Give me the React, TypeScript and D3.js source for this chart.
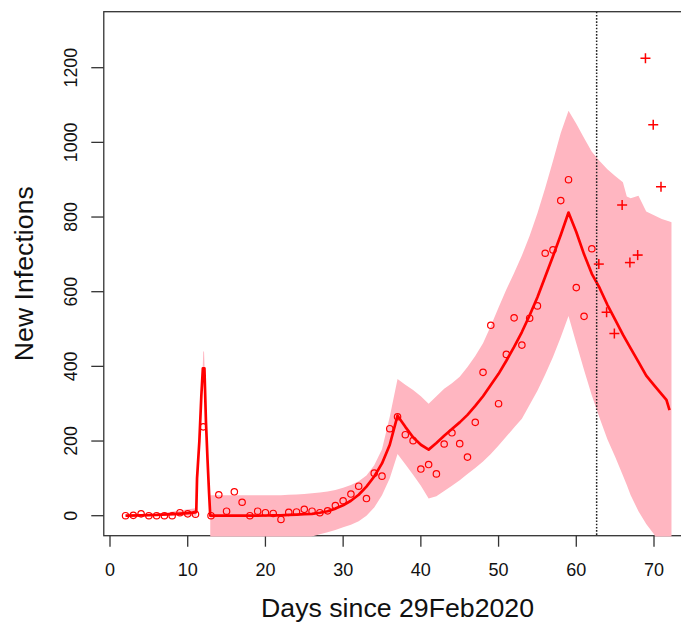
import React from 'react';
import * as d3 from 'd3';

// observed daily counts, day 2 .. 62 (open circles)
const obsStart = 2;
const observed = [
  0, 1, 5, 0, 0, 0, 0, 8, 5, 4, 238, 0, 56, 12, 64, 36, 0, 12, 8, 6,
  -10, 9, 10, 17, 12, 8, 13, 27, 40, 58, 79, 46, 114, 106, 233, 265, 217, 201, 125, 137,
  112, 192, 222, 193, 157, 250, 384, 510, 300, 432, 530, 457, 529, 562, 703, 712, 844, 900, 611, 534,
  715,
];

// held-out counts, day 63 .. 71 (crosses)
const testStart = 63;
const testValues = [674, 545, 488, 832, 678, 698, 1225, 1047, 881];

// fitted curve
const fitDays = [
  2, 4, 6, 8, 10, 11, 11.1, 11.2, 11.5, 11.75, 11.95, 12.15, 12.35, 12.55, 12.75, 12.9,
  13, 14, 15, 16, 17, 18, 19, 20, 21, 22, 23, 24, 25, 26, 27, 28, 29, 30, 31, 32, 33, 34, 35, 36,
  37, 38, 39, 40, 41, 42, 43, 44, 45, 46, 47, 48, 49, 50, 51, 52, 53, 54, 55, 56, 57, 58, 59,
  60, 61, 62, 63, 64, 65, 66, 67, 68, 69, 70, 71, 71.6, 72,
];
const fitValues = [
  0, 1, 2, 4, 7, 9, 10, 100, 200, 320, 395, 395, 250, 150, 60, 0,
  0, 0, 0, 0, 0, 0, 0, 0.5, 1, 1, 2, 3, 4, 5, 8, 12, 19, 28, 40, 56, 78, 105, 140, 190,
  268, 238, 210, 190, 177, 195, 214, 232, 250, 270, 294, 320, 350, 380, 415, 452, 492, 537, 585, 640, 695, 752, 812,
  760, 700, 648, 610, 565, 525, 485, 448, 412, 375, 350, 325, 310, 283,
];

// uncertainty band, early part (before the jump at day 13)
const bandEarlyDays = [2, 5, 7, 9, 11, 11.1, 11.9, 12.0, 12.1, 12.2, 12.9];
const bandEarlyLo = [0, 0, 0, 0, 0, 0, 370, 380, 380, 370, 0];
const bandEarlyHi = [2, 5, 8, 14, 20, 20, 380, 440, 440, 380, 0];

// uncertainty band, main part
const bandDays = [
  12.9, 13, 14, 15, 16, 17, 18, 19, 20, 21, 22, 23, 24, 25, 26, 27, 28, 29, 30, 31, 32, 33, 34, 35, 36,
  37, 38, 39, 40, 41, 42, 43, 44, 45, 46, 47, 48, 49, 50, 51, 52, 53, 54, 55, 56, 57, 58, 59,
  60, 61, 62, 63, 64, 65, 66, 66.5, 67, 68, 69, 70, 71, 72, 72.25,
];
const bandHi = [
  55, 55, 55, 55, 55, 55, 55, 55, 55, 55, 55, 56, 57, 58, 60, 62, 65, 69, 75, 82, 92, 108, 135, 178, 265,
  366, 351, 337, 320, 300, 320, 340, 355, 372, 398, 428, 462, 508, 558, 606, 650, 697, 750, 810, 878, 950, 1025, 1085,
  1050, 1012, 975, 950, 928, 910, 893, 855, 850, 857, 815, 805, 795, 788, 786,
];
const bandLo = [
  -150, -150, -140, -130, -120, -110, -100, -95, -90, -85, -80, -75, -70, -63, -56, -50, -44, -38, -31, -24, -15, 0, 22, 55, 100,
  165, 138, 110, 80, 46, 52, 66, 80, 95, 112, 128, 145, 165, 188, 212, 236, 260, 297, 335, 378, 425, 478, 535,
  462, 390, 322, 262, 205, 158, 108, 82, 55, 12, -22, -50, -90, -130, -140,
];

const cutoffDay = 62.62;
const xTicks = [0, 10, 20, 30, 40, 50, 60, 70];
const yTicks = [0, 200, 400, 600, 800, 1000, 1200];

const W = 681;
const H = 623;

const App = () => {
  const x = d3.scaleLinear().domain([0, 70]).range([110, 654]);
  const y = d3.scaleLinear().domain([0, 1200]).range([515.7, 67.7]);

  const left = x(-0.8);
  const right = x(74.8);
  const top = 11.7;
  const bottom = 535.7;

  const area = d3.area<[number, number, number]>()
    .x(d => x(d[0]))
    .y0(d => y(d[1]))
    .y1(d => y(d[2]));

  const early = bandEarlyDays.map((d, i) => [d, bandEarlyLo[i], bandEarlyHi[i]] as [number, number, number]);
  const main = bandDays.map((d, i) => [d, bandLo[i], bandHi[i]] as [number, number, number]);

  const line = d3.line<[number, number]>()
    .x(d => x(d[0]))
    .y(d => y(d[1]));
  const fit = fitDays.map((d, i) => [d, fitValues[i]] as [number, number]);

  const red = '#ff0000';
  const pink = '#ffb6c1';
  const ink = '#333333';
  const font = 'Liberation Sans, Arial, sans-serif';

  return (
    <svg width={W} height={H} style={{ position: 'absolute', left: 0, top: 0, background: '#fff' }}>
      <defs>
        <clipPath id="plotClip">
          <rect x={left} y={top} width={right - left} height={bottom - top + 0.9} />
        </clipPath>
      </defs>

      {/* box */}
      <rect x={left} y={top} width={right - left} height={bottom - top} fill="none" stroke={ink} strokeWidth={1.3} />

      {/* y axis */}
      {yTicks.map(t => (
        <g key={'y' + t}>
          <line x1={left - 12.5} x2={left} y1={y(t)} y2={y(t)} stroke={ink} strokeWidth={1.3} />
          <text
            transform={`translate(76.7, ${y(t)}) rotate(-90)`}
            textAnchor="middle"
            fontFamily={font}
            fontSize={17.8}
            fill="#111"
          >
            {t}
          </text>
        </g>
      ))}

      {/* x axis */}
      {xTicks.map(t => (
        <g key={'x' + t}>
          <line x1={x(t)} x2={x(t)} y1={bottom} y2={bottom + 11} stroke={ink} strokeWidth={1.3} />
          <text x={x(t)} y={575.5} textAnchor="middle" fontFamily={font} fontSize={18} fill="#111">
            {t}
          </text>
        </g>
      ))}

      <text x={(left + right) / 2} y={617} textAnchor="middle" fontFamily={font} fontSize={26.7} fill="#111">
        Days since 29Feb2020
      </text>
      <text
        transform={`translate(33.3, ${(top + bottom) / 2}) rotate(-90)`}
        textAnchor="middle"
        fontFamily={font}
        fontSize={26.7}
        fill="#111"
      >
        New Infections
      </text>

      <g clipPath="url(#plotClip)">
        <path d={area(early) || ''} fill={pink} />
        <path d={area(main) || ''} fill={pink} />

        {observed.map((v, i) => (
          <circle
            key={'o' + i}
            cx={x(obsStart + i)}
            cy={y(v)}
            r={3.2}
            fill="none"
            stroke={red}
            strokeWidth={1.2}
          />
        ))}

        <path d={line(fit) || ''} fill="none" stroke={red} strokeWidth={2.7} strokeLinejoin="round" />

        {testValues.map((v, i) => {
          const cx = x(testStart + i - 0.1);
          const cy = y(v);
          return (
            <g key={'t' + i} stroke={red} strokeWidth={1.5}>
              <line x1={cx - 5} x2={cx + 5} y1={cy} y2={cy} />
              <line x1={cx} x2={cx} y1={cy - 5} y2={cy + 5} />
            </g>
          );
        })}

        <line
          x1={x(cutoffDay)}
          x2={x(cutoffDay)}
          y1={top}
          y2={bottom}
          stroke="#222"
          strokeWidth={1.5}
          strokeDasharray="1.6,1.6"
        />
      </g>
    </svg>
  );
};

export default App;
